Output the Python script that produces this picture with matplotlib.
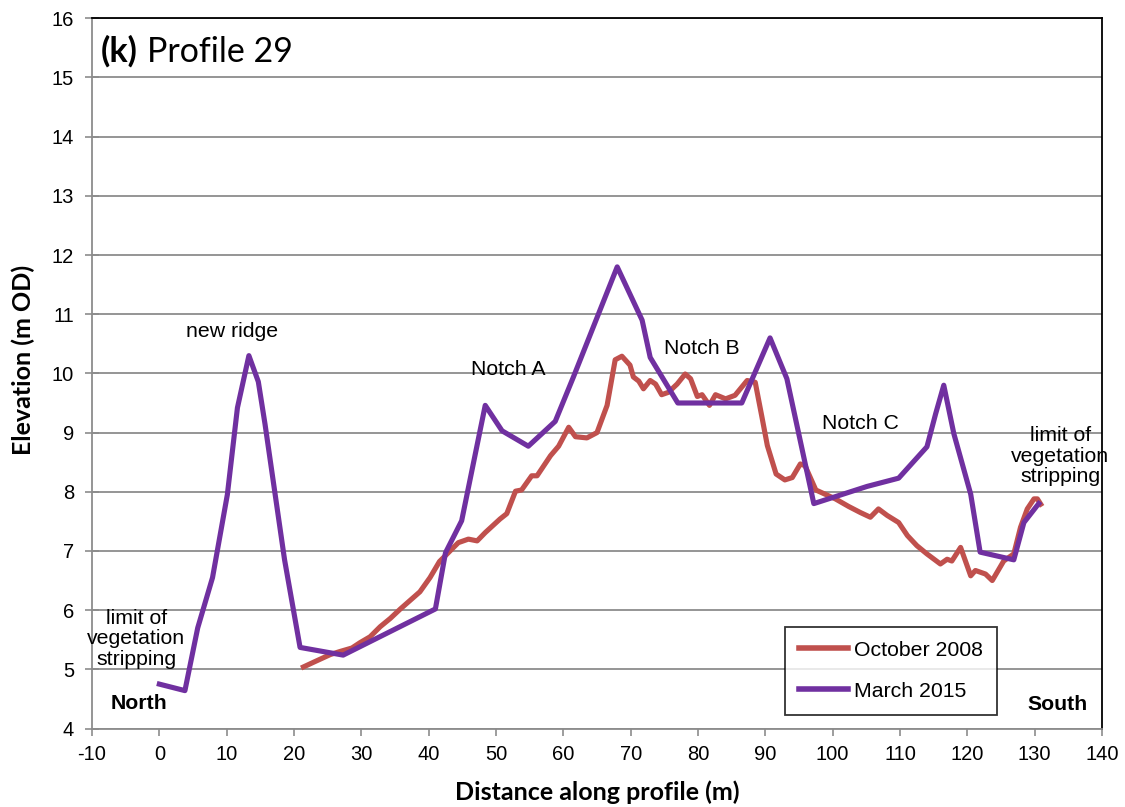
import matplotlib
matplotlib.use("Agg")
import matplotlib.pyplot as plt

plt.rcParams["axes.unicode_minus"] = False

# March 2015 profile
mar_x = [0, 3.8, 5.7, 7.9, 10.1, 11.6, 13.3, 14.7, 15.7, 18.6, 20.9, 27.3, 41.0, 42.5,
         44.9, 48.4, 50.9, 54.8, 58.8, 61.5, 68.0, 71.7, 72.9, 77.0, 86.5, 90.7, 93.2,
         97.2, 105.1, 109.8, 114.0, 115.3, 116.5, 118.0, 120.5, 121.9, 126.9, 128.4, 130.6]
mar_y = [4.75, 4.64, 5.70, 6.55, 7.95, 9.42, 10.30, 9.86, 9.14, 6.85, 5.37, 5.24, 6.02, 6.97,
         7.51, 9.46, 9.03, 8.77, 9.19, 9.94, 11.80, 10.90, 10.27, 9.50, 9.50, 10.60, 9.91,
         7.80, 8.09, 8.23, 8.76, 9.32, 9.80, 8.98, 7.96, 6.98, 6.85, 7.48, 7.80]

# October 2008 profile
oct_x = [21.4, 23.1, 25.4, 26.8, 28.6, 29.8, 31.3, 32.8, 34.3, 35.8, 37.3, 38.7, 40.2, 41.6,
         44.4, 45.9, 47.2, 48.4, 50.6, 51.6, 52.9, 53.8, 55.3, 56.1, 58.1, 59.3, 60.8, 61.8,
         63.5, 65.0, 66.5, 67.7, 68.7, 69.9, 70.4, 71.2, 71.9, 72.9, 73.7, 74.6, 75.6, 76.9,
         78.1, 78.9, 79.9, 80.6, 81.7, 82.6, 84.1, 85.5, 87.3, 88.5, 89.5, 90.3, 91.6, 92.9,
         94.0, 95.2, 95.9, 97.5, 100.4, 102.4, 104.1, 105.6, 106.8, 108.1, 109.8, 111.1,
         112.5, 114.0, 116.0, 117.0, 117.7, 119.0, 120.5, 121.2, 122.7, 123.7, 125.4, 126.9,
         127.9, 128.9, 129.9, 130.4, 130.9]
oct_y = [5.04, 5.13, 5.25, 5.30, 5.36, 5.45, 5.55, 5.72, 5.86, 6.02, 6.17, 6.31, 6.55, 6.82,
         7.14, 7.20, 7.17, 7.31, 7.54, 7.63, 8.01, 8.03, 8.27, 8.27, 8.61, 8.77, 9.09, 8.93,
         8.91, 9.00, 9.46, 10.23, 10.29, 10.14, 9.94, 9.87, 9.74, 9.88, 9.82, 9.64, 9.68, 9.82,
         9.99, 9.91, 9.61, 9.64, 9.46, 9.64, 9.57, 9.63, 9.88, 9.85, 9.26, 8.78, 8.30, 8.20,
         8.24, 8.47, 8.44, 8.03, 7.88, 7.75, 7.65, 7.57, 7.71, 7.60, 7.48, 7.26,
         7.09, 6.95, 6.78, 6.86, 6.83, 7.06, 6.58, 6.67, 6.61, 6.50, 6.83, 6.95,
         7.40, 7.71, 7.88, 7.88, 7.79]

x_ticks = list(range(-10, 141, 10))
y_ticks = list(range(4, 17))

RED = "#C0504D"
PURPLE = "#7030A0"
TICKFONT = "Liberation Sans"
LABFONT = "Lato"

W, H = 1125, 807
fig = plt.figure(figsize=(W / 100, H / 100), dpi=100)
ax = fig.add_axes([92/W, 1 - 728.5/H, 1010/W, 710.2/H])

ax.plot(oct_x, oct_y, color=RED, lw=3.7, label="October 2008", solid_joinstyle="round")
ax.plot(mar_x, mar_y, color=PURPLE, lw=3.7, label="March 2015", solid_joinstyle="round")

ax.set_xlim(-10, 140)
ax.set_ylim(4, 16)
ax.set_xticks(x_ticks)
ax.set_yticks(y_ticks)
ax.yaxis.grid(True, color="#8C8C8C", lw=1.3)
ax.set_axisbelow(True)
for lab in ax.get_xticklabels() + ax.get_yticklabels():
    lab.set_fontfamily(TICKFONT)
    lab.set_fontsize(14.5)
ax.tick_params(axis="x", direction="out", length=5, color="#8C8C8C", width=1.2, pad=7)
ax.tick_params(axis="y", direction="inout", length=10, color="#8C8C8C", width=1.2, pad=8)
for s in ["left", "bottom"]:
    ax.spines[s].set_color("#8C8C8C")
    ax.spines[s].set_linewidth(1.3)
for s in ["top", "right"]:
    ax.spines[s].set_color("black")
    ax.spines[s].set_linewidth(1.3)

# Axis titles placed to match the reference
fig.text(597/W, 1 - 792/H, "Distance along profile (m)", fontfamily=LABFONT,
         fontweight="bold", fontsize=18, ha="center", va="center")
fig.text(23/W, 1 - 360/H, "Elevation (m OD)", fontfamily=LABFONT, fontweight="bold",
         fontsize=18, ha="center", va="center", rotation=90)

tk = dict(fontfamily=TICKFONT, fontsize=15.3, ha="center", va="center", color="black")
ax.text(10.8, 10.7, "new ridge", **tk)
ax.text(51.8, 10.07, "Notch A", **tk)
ax.text(80.6, 10.42, "Notch B", **tk)
ax.text(104.1, 9.15, "Notch C", **tk)
ax.text(-3.4, 5.52, "limit of\nvegetation\nstripping", linespacing=1.1, **tk)
ax.text(133.8, 8.6, "limit of\nvegetation\nstripping", linespacing=1.1, **tk)
ax.text(-3.0, 4.42, "North", fontweight="bold", **tk)
ax.text(133.4, 4.41, "South", fontweight="bold", **tk)

# Title: bold "(k)" followed by regular "Profile 29"
t1 = ax.text(0.009, 0.953, "(k)", transform=ax.transAxes, fontfamily=LABFONT,
             fontweight="bold", fontsize=24.5, ha="left", va="center")
fig.canvas.draw()
bb = t1.get_window_extent()
inv = ax.transAxes.inverted()
x_end = inv.transform((bb.x1 + 9, bb.y0))[0]
ax.text(x_end, 0.953, "Profile 29", transform=ax.transAxes, fontfamily=LABFONT,
        fontsize=24.5, ha="left", va="center")

leg = ax.legend(loc="upper right", bbox_to_anchor=(0.896, 0.1435), frameon=True,
                fancybox=False, edgecolor="black", prop={"family": TICKFONT, "size": 15.3},
                handlelength=2.3, handletextpad=0.3, labelspacing=1.05,
                borderpad=0.66, borderaxespad=0, handleheight=0.7)
leg.get_frame().set_linewidth(1.3)
for line in leg.get_lines():
    line.set_linewidth(4)

fig.savefig("out.png", dpi=100, facecolor="white")
